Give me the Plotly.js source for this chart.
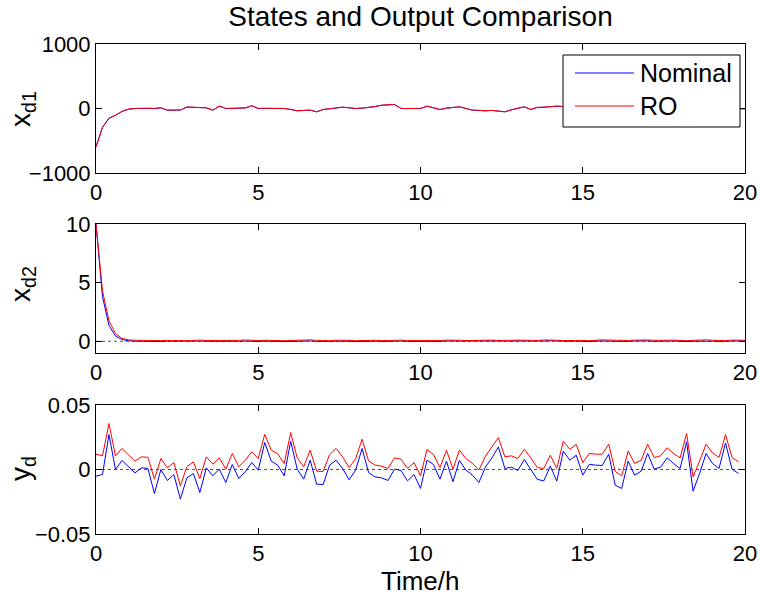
<!DOCTYPE html>
<html>
<head>
<meta charset="utf-8">
<script src="https://cdn.plot.ly/plotly-3.0.1.min.js"></script>
<style>html,body{margin:0;padding:0;background:#fff;}#chart{width:759px;height:600px;}</style>
</head>
<body>
<div id="chart"></div>
<script>
// ---- time grids (h) ----
const tState = [0,0.2,0.4,0.6,0.8,1,1.2,1.4,1.6,1.8,2,2.2,2.4,2.6,2.8,3,3.2,3.4,3.6,3.8,4,4.2,4.4,4.6,4.8,5,5.2,5.4,5.6,5.8,6,6.2,6.4,6.6,6.8,7,7.2,7.4,7.6,7.8,8,8.2,8.4,8.6,8.8,9,9.2,9.4,9.6,9.8,10,10.2,10.4,10.6,10.8,11,11.2,11.4,11.6,11.8,12,12.2,12.4,12.6,12.8,13,13.2,13.4,13.6,13.8,14,14.2,14.4,14.6,14.8,15,15.2,15.4,15.6,15.8,16,16.2,16.4,16.6,16.8,17,17.2,17.4,17.6,17.8,18,18.2,18.4,18.6,18.8,19,19.2,19.4,19.6,19.8,20];
const tOut = [0,0.2,0.4,0.6,0.8,1,1.2,1.4,1.6,1.8,2,2.2,2.4,2.6,2.8,3,3.2,3.4,3.6,3.8,4,4.2,4.4,4.6,4.8,5,5.2,5.4,5.6,5.8,6,6.2,6.4,6.6,6.8,7,7.2,7.4,7.6,7.8,8,8.2,8.4,8.6,8.8,9,9.2,9.4,9.6,9.8,10,10.2,10.4,10.6,10.8,11,11.2,11.4,11.6,11.8,12,12.2,12.4,12.6,12.8,13,13.2,13.4,13.6,13.8,14,14.2,14.4,14.6,14.8,15,15.2,15.4,15.6,15.8,16,16.2,16.4,16.6,16.8,17,17.2,17.4,17.6,17.8,18,18.2,18.4,18.6,18.8,19,19.2,19.4,19.6,19.8];

// ---- x_d1 ----
const xd1Nominal = [-590,-290,-150,-105,-45,-10,0,5,3,0,
  10,-26,-26,-24,22,20,16,10,-26,36,
  0,3,5,8,42,0,2,5,2,0,
  -15,-36,-30,-26,-52,-16,-5,10,21,10,
  0,5,16,30,50,57,62,0,0,5,
  0,36,10,-16,5,21,26,0,-26,-30,
  -36,-30,-40,-52,-21,0,26,-16,16,20,
  28,36,30,20,10,-5,15,30,5,-20,
  -10,12,25,8,-15,-25,0,18,30,10,
  -8,-20,5,22,14,-6,-12,0,-4,-5,
  -5];
const xd1RO = [-600,-295,-152,-106,-46,-11,1,6,3,1,
  11,-25,-27,-23,23,20,17,11,-25,37,
  1,3,6,8,43,1,3,5,3,1,
  -14,-35,-30,-25,-51,-15,-4,11,22,11,
  1,6,17,31,51,58,63,1,1,6,
  1,37,11,-15,6,22,27,1,-25,-29,
  -35,-29,-39,-51,-20,1,27,-15,17,21,
  29,37,31,21,11,-4,16,31,6,-19,
  -9,13,26,9,-14,-24,1,19,31,11,
  -7,-19,6,23,15,-5,-11,1,-3,-4,
  -4];

// ---- x_d2 ----
const xd2Nominal = [10,3.8,1.35,0.45,0.15,0.04,0.01,-0.01,0.01,0.00,
  -0.02,0.01,0.02,-0.01,-0.02,0.01,0.02,0.00,-0.01,0.01,
  -0.02,-0.03,0.00,0.02,-0.01,-0.02,0.01,0.02,-0.01,-0.03,
  0.00,-0.01,0.02,0.03,0.00,-0.02,-0.01,0.01,0.02,0.00,
  -0.03,-0.01,0.02,0.01,-0.02,0.00,0.03,0.02,-0.01,-0.02,
  0.01,0.00,-0.03,-0.01,0.02,0.02,0.00,-0.02,-0.01,0.01,
  0.03,0.02,-0.01,-0.03,0.00,0.02,0.01,-0.02,-0.01,0.02,
  0.04,0.01,-0.02,0.00,0.02,-0.01,-0.03,0.01,0.03,0.02,
  0.00,-0.02,-0.01,0.02,0.04,0.03,0.00,-0.02,0.01,0.02,
  -0.01,-0.03,0.00,0.02,0.03,0.01,-0.01,-0.02,0.02,0.03,
  0.01];
const xd2RO = [10,4.3,1.75,0.65,0.25,0.12,0.09,0.07,0.06,0.08,
  0.06,0.07,0.09,0.06,0.05,0.08,0.10,0.07,0.06,0.09,
  0.07,0.05,0.08,0.11,0.07,0.06,0.09,0.10,0.06,0.05,
  0.08,0.07,0.10,0.12,0.08,0.06,0.07,0.09,0.11,0.08,
  0.05,0.07,0.10,0.09,0.06,0.08,0.12,0.10,0.07,0.06,
  0.09,0.08,0.05,0.07,0.10,0.11,0.08,0.06,0.07,0.09,
  0.12,0.10,0.07,0.05,0.08,0.10,0.09,0.06,0.07,0.11,
  0.13,0.09,0.06,0.08,0.10,0.07,0.05,0.09,0.12,0.10,
  0.08,0.06,0.07,0.10,0.13,0.11,0.08,0.06,0.09,0.10,
  0.07,0.05,0.08,0.11,0.12,0.09,0.07,0.06,0.10,0.12,
  0.09];

// ---- y_d ----
const ydNominal = [-0.0052,-0.0039,0.0271,0.0000,0.0070,0.0021,-0.0026,0.0013,0.0008,-0.0186,
  0.0000,-0.0085,-0.0039,-0.0230,-0.0065,-0.0031,-0.0178,0.0013,-0.0049,0.0003,
  -0.0101,0.0039,-0.0070,-0.0018,0.0054,-0.0005,0.0209,0.0065,0.0034,-0.0049,
  0.0219,0.0003,-0.0075,0.0072,-0.0114,-0.0116,0.0034,0.0072,0.0008,-0.0080,
  -0.0005,0.0163,-0.0023,-0.0057,-0.0065,-0.0085,0.0003,-0.0008,-0.0088,-0.0039,
  -0.0147,0.0072,0.0039,-0.0075,0.0065,-0.0095,0.0070,-0.0005,-0.0044,-0.0101,
  0.0018,0.0090,0.0175,0.0008,0.0018,-0.0008,0.0077,0.0000,-0.0077,-0.0088,
  0.0026,-0.0090,0.0142,0.0072,0.0111,-0.0044,0.0039,0.0034,0.0031,0.0119,
  -0.0121,-0.0147,0.0065,-0.0044,-0.0013,0.0124,0.0003,0.0018,0.0090,0.0046,
  0.0008,0.0214,-0.0168,-0.0031,0.0124,0.0046,0.0008,0.0206,0.0003,-0.0031];
const ydRO = [0.0119,0.0106,0.0356,0.0106,0.0163,0.0116,0.0065,0.0098,0.0095,-0.0075,
  0.0085,0.0013,0.0054,-0.0126,0.0021,0.0059,-0.0070,0.0098,0.0041,0.0090,
  0.0003,0.0124,0.0021,0.0072,0.0137,0.0085,0.0273,0.0150,0.0121,0.0046,
  0.0286,0.0090,0.0021,0.0150,-0.0013,-0.0015,0.0116,0.0163,0.0098,0.0015,
  0.0083,0.0235,0.0067,0.0034,0.0026,0.0008,0.0090,0.0080,0.0008,0.0054,
  -0.0049,0.0155,0.0116,0.0015,0.0150,0.0003,0.0150,0.0085,0.0049,-0.0005,
  0.0103,0.0175,0.0248,0.0098,0.0106,0.0085,0.0157,0.0090,0.0015,0.0008,
  0.0111,0.0008,0.0219,0.0157,0.0194,0.0054,0.0124,0.0119,0.0119,0.0196,
  -0.0015,-0.0049,0.0144,0.0046,0.0072,0.0196,0.0093,0.0106,0.0168,0.0124,
  0.0090,0.0279,-0.0057,0.0065,0.0196,0.0129,0.0093,0.0271,0.0093,0.0059];

// ---- labels ----
const seriesNames = ['Nominal', 'RO'];
const xTicks = [0, 5, 10, 15, 20];
const y1Ticks = [-1000, 0, 1000];
const y2Ticks = [0, 5, 10];
const y3Ticks = [-0.05, 0, 0.05];
const y3TickText = ['\u22120.05', '0', '0.05'];
const yTitles = ['x<sub>d1</sub>', 'x<sub>d2</sub>', 'y<sub>d</sub>'];

const FONT = 'Liberation Sans, Arial, Helvetica, sans-serif';
const BLUE = '#0000ff', RED = '#ff0000';
const TICK = 22, LAB = 28;

function ln(x, y, color, xa, ya, name) {
  return {x: x, y: y, type: 'scatter', mode: 'lines', name: name,
    line: {color: color, width: 1}, xaxis: xa, yaxis: ya, showlegend: false, hoverinfo: 'skip'};
}
const data = [
  ln(tState, xd1Nominal, BLUE, 'x', 'y', seriesNames[0]),
  ln(tState, xd1RO, RED, 'x', 'y', seriesNames[1]),
  ln(tState, xd2Nominal, BLUE, 'x2', 'y2', seriesNames[0]),
  ln(tState, xd2RO, RED, 'x2', 'y2', seriesNames[1]),
  ln(tOut, ydNominal, BLUE, 'x3', 'y3', seriesNames[0]),
  ln(tOut, ydRO, RED, 'x3', 'y3', seriesNames[1])
];

function xax(anchor) {
  return {anchor: anchor, domain: [0, 1], range: [0, 20], tickvals: xTicks,
    ticks: 'inside', ticklen: 6, tickcolor: '#000', tickwidth: 1,
    showline: true, linecolor: '#000', linewidth: 1, mirror: 'ticks',
    showgrid: false, zeroline: false, tickfont: {family: FONT, size: TICK, color: '#000'}};
}
function yax(anchor, dom, range, ticks, text) {
  const a = {anchor: anchor, domain: dom, range: range, tickvals: ticks,
    ticks: 'inside', ticklen: 6, tickcolor: '#000', tickwidth: 1,
    showline: true, linecolor: '#000', linewidth: 1, mirror: 'ticks',
    showgrid: false, zeroline: false, tickfont: {family: FONT, size: TICK, color: '#000'}};
  if (text) a.ticktext = text;
  return a;
}
// pixel helpers for paper coords (plot area 96..745 x 44..534)
const px = v => (v - 96) / 649;
const py = v => (534 - v) / 490;

const shapes = [
  {type: 'line', xref: 'x2', yref: 'y2', x0: 0, x1: 20, y0: 0, y1: 0, layer: 'below', line: {color: '#555', width: 1, dash: 'dot'}},
  {type: 'line', xref: 'x3', yref: 'y3', x0: 0, x1: 20, y0: 0, y1: 0, layer: 'below', line: {color: '#555', width: 1, dash: 'dot'}},
  // legend box
  {type: 'rect', xref: 'paper', yref: 'paper', x0: px(563), x1: px(740), y0: py(127), y1: py(55), layer: 'above', fillcolor: '#fff', line: {color: '#000', width: 1}},
  {type: 'line', xref: 'paper', yref: 'paper', x0: px(575), x1: px(634), y0: py(73), y1: py(73), layer: 'above', line: {color: BLUE, width: 1}},
  {type: 'line', xref: 'paper', yref: 'paper', x0: px(575), x1: px(634), y0: py(106), y1: py(106), layer: 'above', line: {color: RED, width: 1}}
];
const annotations = [
  {text: seriesNames[0], xref: 'paper', yref: 'paper', x: px(638), y: py(73), xanchor: 'left', yanchor: 'middle', showarrow: false, font: {family: FONT, size: 25, color: '#000'}},
  {text: seriesNames[1], xref: 'paper', yref: 'paper', x: px(638), y: py(106), xanchor: 'left', yanchor: 'middle', showarrow: false, font: {family: FONT, size: 25, color: '#000'}},
  {text: yTitles[0], xref: 'paper', yref: 'paper', x: px(22), y: py(109), xanchor: 'center', yanchor: 'middle', textangle: -90, showarrow: false, font: {family: FONT, size: LAB, color: '#000'}},
  {text: yTitles[1], xref: 'paper', yref: 'paper', x: px(22), y: py(284), xanchor: 'center', yanchor: 'middle', textangle: -90, showarrow: false, font: {family: FONT, size: LAB, color: '#000'}},
  {text: yTitles[2], xref: 'paper', yref: 'paper', x: px(22), y: py(469), xanchor: 'center', yanchor: 'middle', textangle: -90, showarrow: false, font: {family: FONT, size: LAB, color: '#000'}},
  {text: 'Time/h', xref: 'paper', yref: 'paper', x: 0.5, y: py(581), xanchor: 'center', yanchor: 'middle', showarrow: false, font: {family: FONT, size: 26, color: '#000'}}
];

const layout = {
  width: 759, height: 600, autosize: false,
  margin: {l: 96, r: 14, t: 44, b: 66},
  paper_bgcolor: '#fff', plot_bgcolor: '#fff',
  showlegend: false,
  title: {text: 'States and Output Comparison', xref: 'paper', x: 0.5, xanchor: 'center', yref: 'container', y: 1 - 16 / 600, yanchor: 'middle', font: {family: FONT, size: 28, color: '#000'}},
  xaxis: xax('y'), xaxis2: xax('y2'), xaxis3: xax('y3'),
  yaxis: yax('x', [py(173), 1], [-1000, 1000], y1Ticks),
  yaxis2: yax('x2', [py(353), py(224)], [-1, 10], y2Ticks),
  yaxis3: yax('x3', [0, py(405)], [-0.05, 0.05], y3Ticks, y3TickText),
  shapes: shapes, annotations: annotations
};
Plotly.newPlot('chart', data, layout, {staticPlot: true, displayModeBar: false});
</script>
</body>
</html>
